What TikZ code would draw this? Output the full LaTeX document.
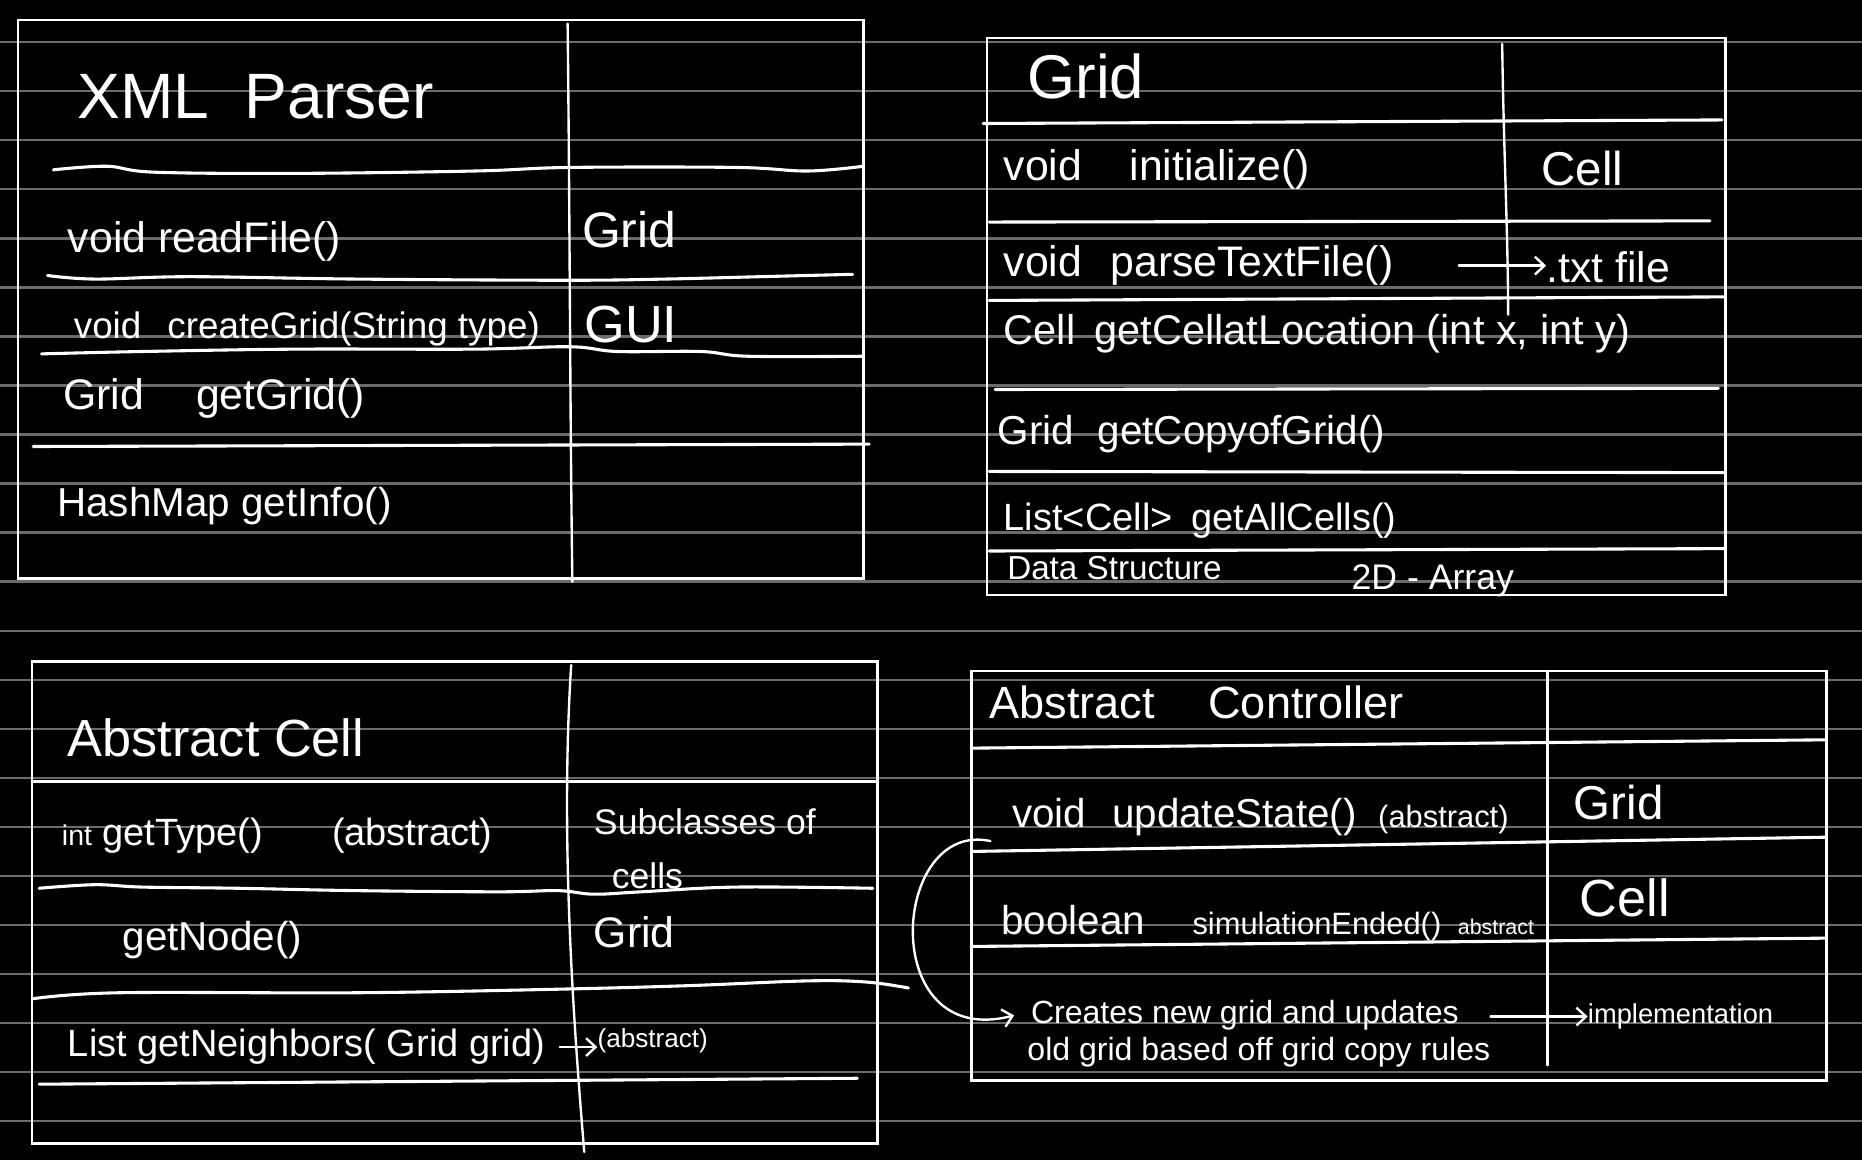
\documentclass[tikz,border=0pt]{standalone}
\usepackage{fontspec}
\setmainfont{Liberation Sans}
\usetikzlibrary{arrows.meta}
\newcommand\handsize[2]{{\fontsize{#1}{#1}\selectfont #2}}

\begin{document}
\begin{tikzpicture}[
    x=1pt,y=-1pt,
    hand/.style={text=white, inner sep=0pt, anchor=base west, font=\fontsize{#1}{#1}\selectfont},
    hand/.default=32,
    boxframe/.style={draw=white, line width=2pt},
    colline/.style={draw=white, line width=2pt, line cap=round},
    rowline/.style={draw=white, line width=2.6pt, line cap=round},
    paperline/.style={draw=black!58, line width=2pt},
    arrowline/.style={draw=white, line width=2pt, line cap=round,
      -{Straight Barb[length=8pt,width=15pt]}}
  ]
    \path[fill=black, use as bounding box] (0,0) rectangle (1568,977);
    \foreach \k in {0,...,22}
      \draw[paperline] (0,{35.5+41.3*\k}) -- (1568,{35.5+41.3*\k});

    % XML parser
    \draw[boxframe] (15,17) rectangle (727,487);
    \draw[colline] (478,20) .. controls (480,200) and (480,350) .. (482,490);
    \draw[rowline] plot[smooth, tension=0.6] coordinates {(45,143) (90,140) (130,145) (250,146) (400,144) (480,141) (620,141) (680,144) (727,140)};
    \draw[rowline] plot[smooth, tension=0.6] coordinates {(40,232) (80,235) (160,233) (300,235) (478,236) (560,235) (640,233) (718,231)};
    \draw[rowline] plot[smooth, tension=0.6] coordinates {(35,298) (120,296) (250,294) (400,294) (480,292) (520,296) (590,296) (630,300) (727,300)};
    \draw[rowline] (28,376) -- (732,374);

    \node[hand=54] (xmlTitle) at (65,100) {XML\hspace{30pt}Parser};
    \node[hand=36] (readFile) at (57,213) {void readFile()};
    \node[hand=42] (xmlGrid) at (490,208) {Grid};
    \node[hand=31] (createGrid) at (62,285) {void\hspace{22pt}createGrid(String type)};
    \node[hand=44] (xmlGui) at (492,288) {GUI};
    \node[hand=36] (getGrid) at (53,345) {Grid\hspace{44pt}getGrid()};
    \node[hand=34] (getInfo) at (48,435) {HashMap getInfo()};

    % Grid
    \draw[boxframe] (831,32) rectangle (1453,501);
    \draw[colline] (1265,37) .. controls (1266,120) and (1270,200) .. (1270,265);
    \draw[rowline] (828,104) -- (1450,101);
    \draw[rowline] (833,187) -- (1440,186);
    \draw[rowline] (833,253) -- (1453,250);
    \draw[rowline] (838,328) -- (1447,327);
    \draw[rowline] (833,397) -- (1453,398);
    \draw[rowline] (833,464) -- (1453,462);

    \node[hand=52] (gridTitle) at (865,83) {Grid};
    \node[hand=36] (initialize) at (845,152) {void\hspace{40pt}initialize()};
    \node[hand=40] (gridCell) at (1298,156) {Cell};
    \node[hand=36] (parseFile) at (845,233) {void\hspace{24pt}parseTextFile()};
    \node[hand=36] (txtFile) at (1302,238) {.txt file};
    \node[hand=35] (cellAt) at (845,290) {Cell\hspace{16pt}getCellatLocation (int x, int y)};
    \node[hand=34] (copyGrid) at (840,374) {Grid\hspace{20pt}getCopyofGrid()};
    \node[hand=32] (allCells) at (845,447) {List<Cell>\hspace{16pt}getAllCells()};
    \node[hand=28] (dataStruct) at (848,488) {Data Structure};
    \node[hand=30] (array) at (1138,496) {2D - Array};

    \draw[arrowline, shorten <=55pt] (parseFile.east) -- (parseFile.east -| txtFile.west);

    % Abstract cell
    \draw[boxframe] (27,557) rectangle (739,963);
    \draw[colline] (481,560) .. controls (472,700) and (482,850) .. (492,970);
    \draw[rowline] (27,658) -- (739,658);
    \draw[rowline] plot[smooth, tension=0.6] coordinates {(33,748) (80,745) (120,747) (200,748) (300,750) (420,751) (470,750) (500,753) (540,751) (620,747) (735,748)};
    \draw[rowline] plot[smooth, tension=0.6] coordinates {(28,841) (100,836) (300,836) (470,833) (580,830) (680,826) (730,827) (765,832)};
    \draw[rowline] (33,913) -- (722,908);

    \node[hand=44] (cellTitle) at (57,637) {Abstract Cell};
    \node[hand=32] (getType) at (52,712) {\handsize{24}{int} getType()\hspace{58pt}(abstract)};
    \node[hand=30] (subclassA) at (500,703) {Subclasses of};
    \node[hand=30] (subclassB) at (515,748) {cells};
    \node[hand=34] (getNode) at (103,800) {getNode()};
    \node[hand=36] (cellGrid) at (500,798) {Grid};
    \node[hand=32] (neighbors) at (57,890) {List getNeighbors( Grid grid)};
    \node[hand=22] (absLabel) at (503,882) {(abstract)};

    \draw[arrowline, shorten <=12pt] (neighbors.east) -- (neighbors.east -| absLabel.west);

    % Abstract controller
    \draw[boxframe] (818,565) rectangle (1538,910);
    \draw[colline] (1303,565) -- (1303,897);
    \draw[rowline] (818,630) -- (1538,623);
    \draw[rowline] (818,717) -- (1538,705);
    \draw[rowline] (818,797) -- (1538,790);

    \node[hand=38] (ctrlTitle) at (833,605) {Abstract\hspace{45pt}Controller};
    \node[hand=34] (updateState) at (852,697) {void\hspace{22pt}updateState()\hspace{18pt}\handsize{26}{(abstract)}};
    \node[hand=40] (ctrlGrid) at (1325,690) {Grid};
    \node[hand=34] (simEnded) at (843,787) {boolean\hspace{40pt}\handsize{26}{simulationEnded()}\hspace{14pt}\handsize{18}{abstract}};
    \node[hand=44] (ctrlCell) at (1330,772) {Cell};
    \node[hand=27] (creates) at (868,862) {Creates new grid and updates};
    \node[hand=27] (copyRules) at (865,893) {old grid based off grid copy rules};
    \node[hand=23] (implementation) at (1337,862) {implementation};

    \draw[arrowline] ([xshift=-18pt,yshift=-4pt]updateState.south west) .. controls (750,690) and (738,885) .. ([xshift=-14pt]creates.west);
    \draw[arrowline] (copyRules.east |- implementation.west) -- (implementation.west);
\end{tikzpicture}
\end{document}
